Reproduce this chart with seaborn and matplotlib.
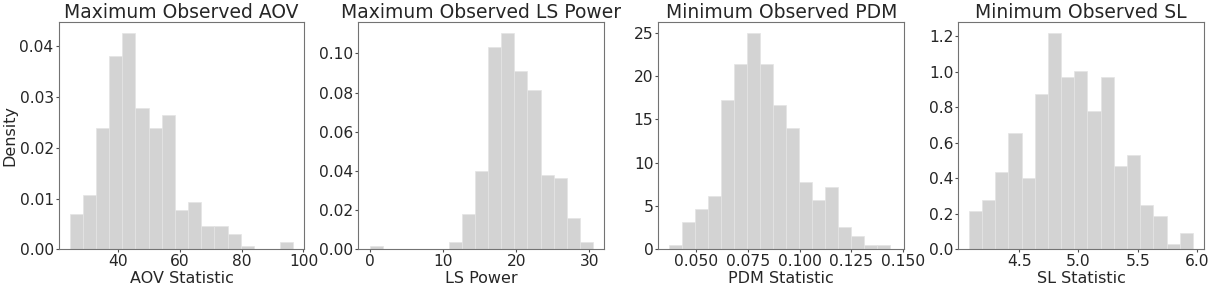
import numpy as np
import pandas as pd
import matplotlib
matplotlib.use("Agg")
import matplotlib.pyplot as plt
import seaborn as sns

# bin ranges (lo, hi) and bar heights, 17 bins per panel
aov_range = (24.2, 96.7)
aov_density = [0.0069, 0.0108, 0.0240, 0.0380, 0.0427, 0.0279, 0.0240, 0.0264, 0.0077,
               0.0093, 0.0046, 0.0046, 0.0030, 0.0007, 0.0, 0.0, 0.0015]

ls_range = (0.0, 30.5)
ls_density = [0.0017, 0.0, 0.0, 0.0, 0.0, 0.0, 0.0036, 0.0180, 0.0398, 0.1034, 0.1107,
              0.0910, 0.0816, 0.0379, 0.0362, 0.0162, 0.0036]

pdm_range = (0.037, 0.1435)
pdm_density = [0.46, 3.11, 4.69, 6.22, 17.2, 21.35, 25.04, 21.35, 16.67, 14.06, 7.8,
               5.68, 7.26, 2.57, 1.54, 0.46, 0.46]

sl_range = (4.075, 5.965)
sl_density = [0.217, 0.281, 0.437, 0.658, 0.405, 0.875, 1.222, 0.969, 1.003, 0.782,
              0.969, 0.470, 0.532, 0.249, 0.186, 0.030, 0.094]

titles = ['Maximum Observed AOV', 'Maximum Observed LS Power',
          'Minimum Observed PDM', 'Minimum Observed SL']
xlabels = ['AOV Statistic', 'LS Power', 'PDM Statistic', 'SL Statistic']

sns.set_style('ticks')
plt.rcParams['axes.edgecolor'] = '0.45'
plt.rcParams['font.family'] = ['DejaVu Sans']

fig, axes = plt.subplots(1, 4, figsize=(12.2, 2.89), dpi=100)
fig.subplots_adjust(left=0.048, right=0.987, bottom=0.137, top=0.925, wspace=0.22)

panels = [(aov_range, aov_density), (ls_range, ls_density),
          (pdm_range, pdm_density), (sl_range, sl_density)]

for i, (ax, (rng, dens)) in enumerate(zip(axes, panels)):
    edges = np.linspace(rng[0], rng[1], len(dens) + 1)
    df = pd.DataFrame({'val': (edges[:-1] + edges[1:]) / 2, 'dens': dens})
    sns.histplot(data=df, x='val', weights='dens', bins=list(edges), stat='count', ax=ax,
                 color='lightgray', alpha=1, edgecolor='#e4e4e4', linewidth=0.5)
    ax.set_title(titles[i], fontsize=13.5, pad=3)
    ax.set_xlabel(xlabels[i], fontsize=11.5, labelpad=1)
    ax.set_ylabel('Density' if i == 0 else '', fontsize=11.5)
    ax.tick_params(labelsize=11.2, length=2.5, width=0.8, pad=1, color='0.3')

axes[0].yaxis.set_label_coords(-0.168, 0.5)

axes[0].set_xticks([40, 60, 80, 100])
axes[1].set_xticks([0, 10, 20, 30])
axes[2].set_xticks([0.05, 0.075, 0.1, 0.125, 0.15])
axes[2].set_xticklabels(['0.050', '0.075', '0.100', '0.125', '0.150'])
axes[3].set_xticks([4.5, 5.0, 5.5, 6.0])
axes[3].set_yticks([0.0, 0.2, 0.4, 0.6, 0.8, 1.0, 1.2])
axes[3].set_xlim(3.986, 6.06)
axes[2].set_xlim(0.0318, 0.1505)
axes[0].set_xlim(20.6, 100.3)

fig.savefig('out.png', dpi=100)
